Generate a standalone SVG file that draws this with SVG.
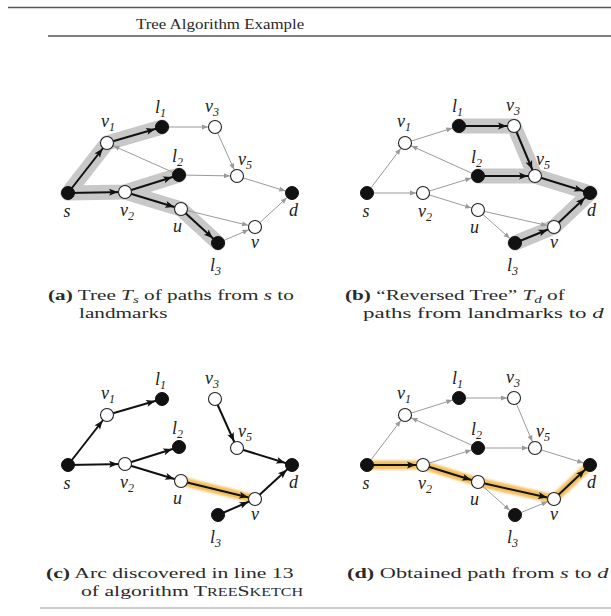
<svg xmlns="http://www.w3.org/2000/svg" width="611" height="616" viewBox="0 0 611 616">
<defs>
<style>
.thin{stroke:#9a9a9a;stroke-width:1;fill:none;marker-end:url(#ah-thin)}
.thick{stroke:#111;stroke-width:2;fill:none;marker-end:url(#ah-thick)}
.hl{stroke:#c8c8c8;stroke-width:15;fill:none;stroke-linecap:round;stroke-linejoin:round}
.or{stroke:#f0b440;stroke-width:9;fill:none;stroke-linecap:round;stroke-linejoin:round;opacity:.85;filter:url(#blur)}
.nb{fill:#111;stroke:#111;stroke-width:1}
.nw{fill:#fff;stroke:#222;stroke-width:1.1}
.lbl{font-family:"Liberation Serif",serif;font-style:italic;font-size:18px;fill:#222}
.sub{font-size:12px}
.cap{font-family:"Liberation Serif",serif;font-size:15.5px;fill:#2a2a2a}
.b{font-weight:bold}
.i{font-style:italic}
.rule{stroke:#555;stroke-width:1.5}
</style>
<marker id="ah-thin" markerUnits="userSpaceOnUse" markerWidth="20" markerHeight="20" refX="13" refY="2.5" orient="auto" overflow="visible"><path d="M0,0 L6,2.5 L0,5 z" fill="#9a9a9a"/></marker>
<marker id="ah-thick" markerUnits="userSpaceOnUse" markerWidth="24" markerHeight="24" refX="16" refY="3.5" orient="auto" overflow="visible"><path d="M0,0 L9,3.5 L0,7 L2,3.5 z" fill="#111"/></marker>
<filter id="blur" x="-20%" y="-50%" width="140%" height="200%"><feGaussianBlur stdDeviation="1.3"/></filter>
</defs>
<rect width="611" height="616" fill="#fff"/>

<g id="header">
<line class="rule" x1="8" y1="7.5" x2="611" y2="7.5"/>
<text class="cap" x="0" y="0" font-size="19.5" transform="translate(136,29) scale(1.09,1)">Tree Algorithm Example</text>
<line class="rule" x1="48" y1="36" x2="611" y2="36"/>
</g>

<!-- Panel (a) -->
<g id="panel-a">
<g id="a-highlight">
<polyline class="hl" points="68,193 107,143 162,127"/>
<polyline class="hl" points="68,193 125,192 179,175"/>
<polyline class="hl" points="125,192 181,209 218,243"/>
</g>
<g id="a-connectors">
<line class="thin" x1="162" y1="127" x2="215" y2="127"/>
<line class="thin" x1="215" y1="127" x2="237" y2="176"/>
<line class="thin" x1="179" y1="175" x2="237" y2="176"/>
<line class="thin" x1="237" y1="176" x2="292" y2="193"/>
<line class="thin" x1="179" y1="175" x2="107" y2="143"/>
<line class="thin" x1="181" y1="209" x2="255" y2="227"/>
<line class="thin" x1="218" y1="243" x2="255" y2="227"/>
<line class="thin" x1="255" y1="227" x2="292" y2="193"/>
<line class="thick" x1="68" y1="193" x2="107" y2="143"/>
<line class="thick" x1="107" y1="143" x2="162" y2="127"/>
<line class="thick" x1="68" y1="193" x2="125" y2="192"/>
<line class="thick" x1="125" y1="192" x2="179" y2="175"/>
<line class="thick" x1="125" y1="192" x2="181" y2="209"/>
<line class="thick" x1="181" y1="209" x2="218" y2="243"/>
</g>
<g id="a-s"><circle class="nb" cx="68" cy="193" r="6.5"/><text class="lbl" x="63.5" y="217">s</text></g>
<g id="a-v1"><circle class="nw" cx="107" cy="143" r="6.5"/><text class="lbl" x="101" y="127">v<tspan class="sub" dy="4">1</tspan></text></g>
<g id="a-l1"><circle class="nb" cx="162" cy="127" r="6.5"/><text class="lbl" x="155" y="113">l<tspan class="sub" dy="4">1</tspan></text></g>
<g id="a-v3"><circle class="nw" cx="215" cy="127" r="6.5"/><text class="lbl" x="205" y="112">v<tspan class="sub" dy="4">3</tspan></text></g>
<g id="a-l2"><circle class="nb" cx="179" cy="175" r="6.5"/><text class="lbl" x="172" y="162">l<tspan class="sub" dy="4">2</tspan></text></g>
<g id="a-v5"><circle class="nw" cx="237" cy="176" r="6.5"/><text class="lbl" x="238" y="165">v<tspan class="sub" dy="4">5</tspan></text></g>
<g id="a-v2"><circle class="nw" cx="125" cy="192" r="6.5"/><text class="lbl" x="120" y="216">v<tspan class="sub" dy="4">2</tspan></text></g>
<g id="a-d"><circle class="nb" cx="292" cy="193" r="6.5"/><text class="lbl" x="289" y="216">d</text></g>
<g id="a-u"><circle class="nw" cx="181" cy="209" r="6.5"/><text class="lbl" x="173" y="232">u</text></g>
<g id="a-v"><circle class="nw" cx="255" cy="227" r="6.5"/><text class="lbl" x="251" y="248">v</text></g>
<g id="a-l3"><circle class="nb" cx="218" cy="243" r="6.5"/><text class="lbl" x="210" y="271">l<tspan class="sub" dy="4">3</tspan></text></g>
<text class="cap" transform="translate(48,300) scale(1.37,1)"><tspan class="b">(a)</tspan> Tree <tspan class="i">T</tspan><tspan class="i" font-size="11" dy="2.5">s</tspan><tspan dy="-2.5"> of paths from </tspan><tspan class="i">s</tspan> to</text>
<text class="cap" transform="translate(79,318) scale(1.37,1)">landmarks</text>
</g>

<!-- Panel (b) -->
<g id="panel-b">
<g id="b-highlight">
<polyline class="hl" points="459,126 514,126 535,176 590,193"/>
<polyline class="hl" points="478,176 535,176"/>
<polyline class="hl" points="515,243 554,227 590,193"/>
</g>
<g id="b-connectors">
<line class="thin" x1="367" y1="193" x2="405" y2="143"/>
<line class="thin" x1="367" y1="193" x2="423" y2="193"/>
<line class="thin" x1="405" y1="143" x2="459" y2="126"/>
<line class="thin" x1="478" y1="176" x2="405" y2="143"/>
<line class="thin" x1="423" y1="193" x2="478" y2="176"/>
<line class="thin" x1="423" y1="193" x2="478" y2="210"/>
<line class="thin" x1="478" y1="210" x2="554" y2="227"/>
<line class="thin" x1="478" y1="210" x2="515" y2="243"/>
<line class="thick" x1="459" y1="126" x2="514" y2="126"/>
<line class="thick" x1="514" y1="126" x2="535" y2="176"/>
<line class="thick" x1="478" y1="176" x2="535" y2="176"/>
<line class="thick" x1="535" y1="176" x2="590" y2="193"/>
<line class="thick" x1="515" y1="243" x2="554" y2="227"/>
<line class="thick" x1="554" y1="227" x2="590" y2="193"/>
</g>
<g id="b-s"><circle class="nb" cx="367" cy="193" r="6.5"/><text class="lbl" x="362.5" y="217">s</text></g>
<g id="b-v1"><circle class="nw" cx="405" cy="143" r="6.5"/><text class="lbl" x="397" y="127">v<tspan class="sub" dy="4">1</tspan></text></g>
<g id="b-l1"><circle class="nb" cx="459" cy="126" r="6.5"/><text class="lbl" x="452" y="112">l<tspan class="sub" dy="4">1</tspan></text></g>
<g id="b-v3"><circle class="nw" cx="514" cy="126" r="6.5"/><text class="lbl" x="506" y="111">v<tspan class="sub" dy="4">3</tspan></text></g>
<g id="b-l2"><circle class="nb" cx="478" cy="176" r="6.5"/><text class="lbl" x="471" y="163">l<tspan class="sub" dy="4">2</tspan></text></g>
<g id="b-v5"><circle class="nw" cx="535" cy="176" r="6.5"/><text class="lbl" x="536" y="165">v<tspan class="sub" dy="4">5</tspan></text></g>
<g id="b-v2"><circle class="nw" cx="423" cy="193" r="6.5"/><text class="lbl" x="418" y="217">v<tspan class="sub" dy="4">2</tspan></text></g>
<g id="b-d"><circle class="nb" cx="590" cy="193" r="6.5"/><text class="lbl" x="587" y="216">d</text></g>
<g id="b-u"><circle class="nw" cx="478" cy="210" r="6.5"/><text class="lbl" x="470" y="233">u</text></g>
<g id="b-v"><circle class="nw" cx="554" cy="227" r="6.5"/><text class="lbl" x="550" y="248">v</text></g>
<g id="b-l3"><circle class="nb" cx="515" cy="243" r="6.5"/><text class="lbl" x="507" y="271">l<tspan class="sub" dy="4">3</tspan></text></g>
<text class="cap" transform="translate(345,300) scale(1.37,1)"><tspan class="b">(b)</tspan> “Reversed Tree” <tspan class="i">T</tspan><tspan class="i" font-size="11" dy="2.5">d</tspan><tspan dy="-2.5"> of</tspan></text>
<text class="cap" transform="translate(363,318) scale(1.48,1)">paths from landmarks to <tspan class="i">d</tspan></text>
</g>

<!-- Panel (c) -->
<g id="panel-c" transform="translate(0,272)">
<g id="c-highlight">
<line class="or" x1="181" y1="209" x2="255" y2="227"/>
</g>
<g id="c-connectors">
<line class="thick" x1="68" y1="193" x2="107" y2="143"/>
<line class="thick" x1="107" y1="143" x2="162" y2="127"/>
<line class="thick" x1="68" y1="193" x2="125" y2="192"/>
<line class="thick" x1="125" y1="192" x2="179" y2="175"/>
<line class="thick" x1="125" y1="192" x2="181" y2="209"/>
<line class="thick" x1="215" y1="127" x2="237" y2="176"/>
<line class="thick" x1="237" y1="176" x2="292" y2="193"/>
<line class="thick" x1="218" y1="243" x2="255" y2="227"/>
<line class="thick" x1="255" y1="227" x2="292" y2="193"/>
<line class="thick" x1="181" y1="209" x2="255" y2="227"/>
</g>
<g id="c-s"><circle class="nb" cx="68" cy="193" r="6.5"/><text class="lbl" x="63.5" y="217">s</text></g>
<g id="c-v1"><circle class="nw" cx="107" cy="143" r="6.5"/><text class="lbl" x="101" y="127">v<tspan class="sub" dy="4">1</tspan></text></g>
<g id="c-l1"><circle class="nb" cx="162" cy="127" r="6.5"/><text class="lbl" x="155" y="113">l<tspan class="sub" dy="4">1</tspan></text></g>
<g id="c-v3"><circle class="nw" cx="215" cy="127" r="6.5"/><text class="lbl" x="205" y="112">v<tspan class="sub" dy="4">3</tspan></text></g>
<g id="c-l2"><circle class="nb" cx="179" cy="175" r="6.5"/><text class="lbl" x="172" y="162">l<tspan class="sub" dy="4">2</tspan></text></g>
<g id="c-v5"><circle class="nw" cx="237" cy="176" r="6.5"/><text class="lbl" x="238" y="165">v<tspan class="sub" dy="4">5</tspan></text></g>
<g id="c-v2"><circle class="nw" cx="125" cy="192" r="6.5"/><text class="lbl" x="120" y="216">v<tspan class="sub" dy="4">2</tspan></text></g>
<g id="c-d"><circle class="nb" cx="292" cy="193" r="6.5"/><text class="lbl" x="289" y="216">d</text></g>
<g id="c-u"><circle class="nw" cx="181" cy="209" r="6.5"/><text class="lbl" x="173" y="232">u</text></g>
<g id="c-v"><circle class="nw" cx="255" cy="227" r="6.5"/><text class="lbl" x="251" y="248">v</text></g>
<g id="c-l3"><circle class="nb" cx="218" cy="243" r="6.5"/><text class="lbl" x="210" y="271">l<tspan class="sub" dy="4">3</tspan></text></g>
<text class="cap" transform="translate(46,306) scale(1.4,1)"><tspan class="b">(c)</tspan> Arc discovered in line 13</text>
<text class="cap" transform="translate(81,323.5) scale(1.4,1)">of algorithm T<tspan font-size="11.5">REE</tspan>S<tspan font-size="11.5">KETCH</tspan></text>
</g>

<!-- Panel (d) -->
<g id="panel-d" transform="translate(0,272)">
<g id="d-highlight">
<polyline class="or" points="367,193 423,193 478,210 554,227 590,193"/>
</g>
<g id="d-connectors">
<line class="thin" x1="367" y1="193" x2="405" y2="143"/>
<line class="thin" x1="405" y1="143" x2="459" y2="126"/>
<line class="thin" x1="478" y1="176" x2="405" y2="143"/>
<line class="thin" x1="423" y1="193" x2="478" y2="176"/>
<line class="thin" x1="459" y1="126" x2="514" y2="126"/>
<line class="thin" x1="514" y1="126" x2="535" y2="176"/>
<line class="thin" x1="478" y1="176" x2="535" y2="176"/>
<line class="thin" x1="535" y1="176" x2="590" y2="193"/>
<line class="thin" x1="478" y1="210" x2="515" y2="243"/>
<line class="thin" x1="515" y1="243" x2="554" y2="227"/>
<line class="thick" x1="367" y1="193" x2="423" y2="193"/>
<line class="thick" x1="423" y1="193" x2="478" y2="210"/>
<line class="thick" x1="478" y1="210" x2="554" y2="227"/>
<line class="thick" x1="554" y1="227" x2="590" y2="193"/>
</g>
<g id="d-s"><circle class="nb" cx="367" cy="193" r="6.5"/><text class="lbl" x="362.5" y="217">s</text></g>
<g id="d-v1"><circle class="nw" cx="405" cy="143" r="6.5"/><text class="lbl" x="397" y="127">v<tspan class="sub" dy="4">1</tspan></text></g>
<g id="d-l1"><circle class="nb" cx="459" cy="126" r="6.5"/><text class="lbl" x="452" y="112">l<tspan class="sub" dy="4">1</tspan></text></g>
<g id="d-v3"><circle class="nw" cx="514" cy="126" r="6.5"/><text class="lbl" x="506" y="111">v<tspan class="sub" dy="4">3</tspan></text></g>
<g id="d-l2"><circle class="nb" cx="478" cy="176" r="6.5"/><text class="lbl" x="471" y="163">l<tspan class="sub" dy="4">2</tspan></text></g>
<g id="d-v5"><circle class="nw" cx="535" cy="176" r="6.5"/><text class="lbl" x="536" y="165">v<tspan class="sub" dy="4">5</tspan></text></g>
<g id="d-v2"><circle class="nw" cx="423" cy="193" r="6.5"/><text class="lbl" x="418" y="217">v<tspan class="sub" dy="4">2</tspan></text></g>
<g id="d-d"><circle class="nb" cx="590" cy="193" r="6.5"/><text class="lbl" x="587" y="216">d</text></g>
<g id="d-u"><circle class="nw" cx="478" cy="210" r="6.5"/><text class="lbl" x="470" y="233">u</text></g>
<g id="d-v"><circle class="nw" cx="554" cy="227" r="6.5"/><text class="lbl" x="550" y="248">v</text></g>
<g id="d-l3"><circle class="nb" cx="515" cy="243" r="6.5"/><text class="lbl" x="507" y="271">l<tspan class="sub" dy="4">3</tspan></text></g>
<text class="cap" transform="translate(347,306) scale(1.44,1)"><tspan class="b">(d)</tspan> Obtained path from <tspan class="i">s</tspan> to <tspan class="i">d</tspan></text>
</g>

<line x1="40" y1="608" x2="611" y2="608" stroke="#999" stroke-width="1"/>
</svg>
